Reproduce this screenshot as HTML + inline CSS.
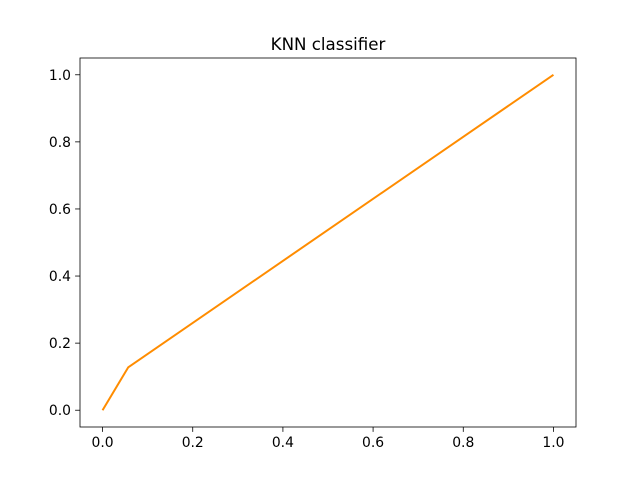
<!DOCTYPE html>
<html><head><meta charset="utf-8"><style>
body{margin:0;background:#fff;}
svg text{font-family:"DejaVu Sans","Liberation Sans",sans-serif;fill:#000;}
</style></head><body>
<svg id="chart" width="640" height="480" xmlns="http://www.w3.org/2000/svg">
<rect width="640" height="480" fill="#fff"/>
<text x="328" y="50" font-size="16.67" text-anchor="middle">KNN classifier</text>
<g id="axes"></g>
<rect x="80" y="58" width="496" height="369" fill="none" stroke="#000" stroke-width="0.8"/>
</svg>
<script>
const xValues = [0.0, 0.057, 1.0];
const yValues = [0.0, 0.128, 1.0];
const xTicks = [0.0, 0.2, 0.4, 0.6, 0.8, 1.0];
const yTicks = [0.0, 0.2, 0.4, 0.6, 0.8, 1.0];
const tickLabels = ["0.0", "0.2", "0.4", "0.6", "0.8", "1.0"];

const L=80,R=576,T=58,B=427;
const xmin=-0.05,xmax=1.05,ymin=-0.05,ymax=1.05;
const sx=v=>L+(v-xmin)/(xmax-xmin)*(R-L);
const sy=v=>B-(v-ymin)/(ymax-ymin)*(B-T);
const NS="http://www.w3.org/2000/svg";
const g=document.getElementById('axes');
function mk(tag,attrs){const e=document.createElementNS(NS,tag);for(const k in attrs)e.setAttribute(k,attrs[k]);g.appendChild(e);return e;}
xTicks.forEach((v,i)=>{
  const t=mk('line',{x1:sx(v),x2:sx(v),y1:B,y2:B+4.9,stroke:'#000','stroke-width':0.8});
  
  
  const l=mk('text',{x:sx(v),y:B+20,'font-size':13.89,'text-anchor':'middle'});
  l.textContent=tickLabels[i];
  
  
});
yTicks.forEach((v,i)=>{
  const t=mk('line',{x1:L-4.9,x2:L,y1:sy(v),y2:sy(v),stroke:'#000','stroke-width':0.8});
  
  
  const l=mk('text',{x:L-9,y:sy(v)+5,'font-size':13.89,'text-anchor':'end'});
  l.textContent=tickLabels[i];
  
  
});
const pts=xValues.map((x,i)=>sx(x)+','+sy(yValues[i])).join(' ');
const line=mk('polyline',{points:pts,fill:'none',stroke:'#ff8c00','stroke-width':2});


</script>
</body></html>
